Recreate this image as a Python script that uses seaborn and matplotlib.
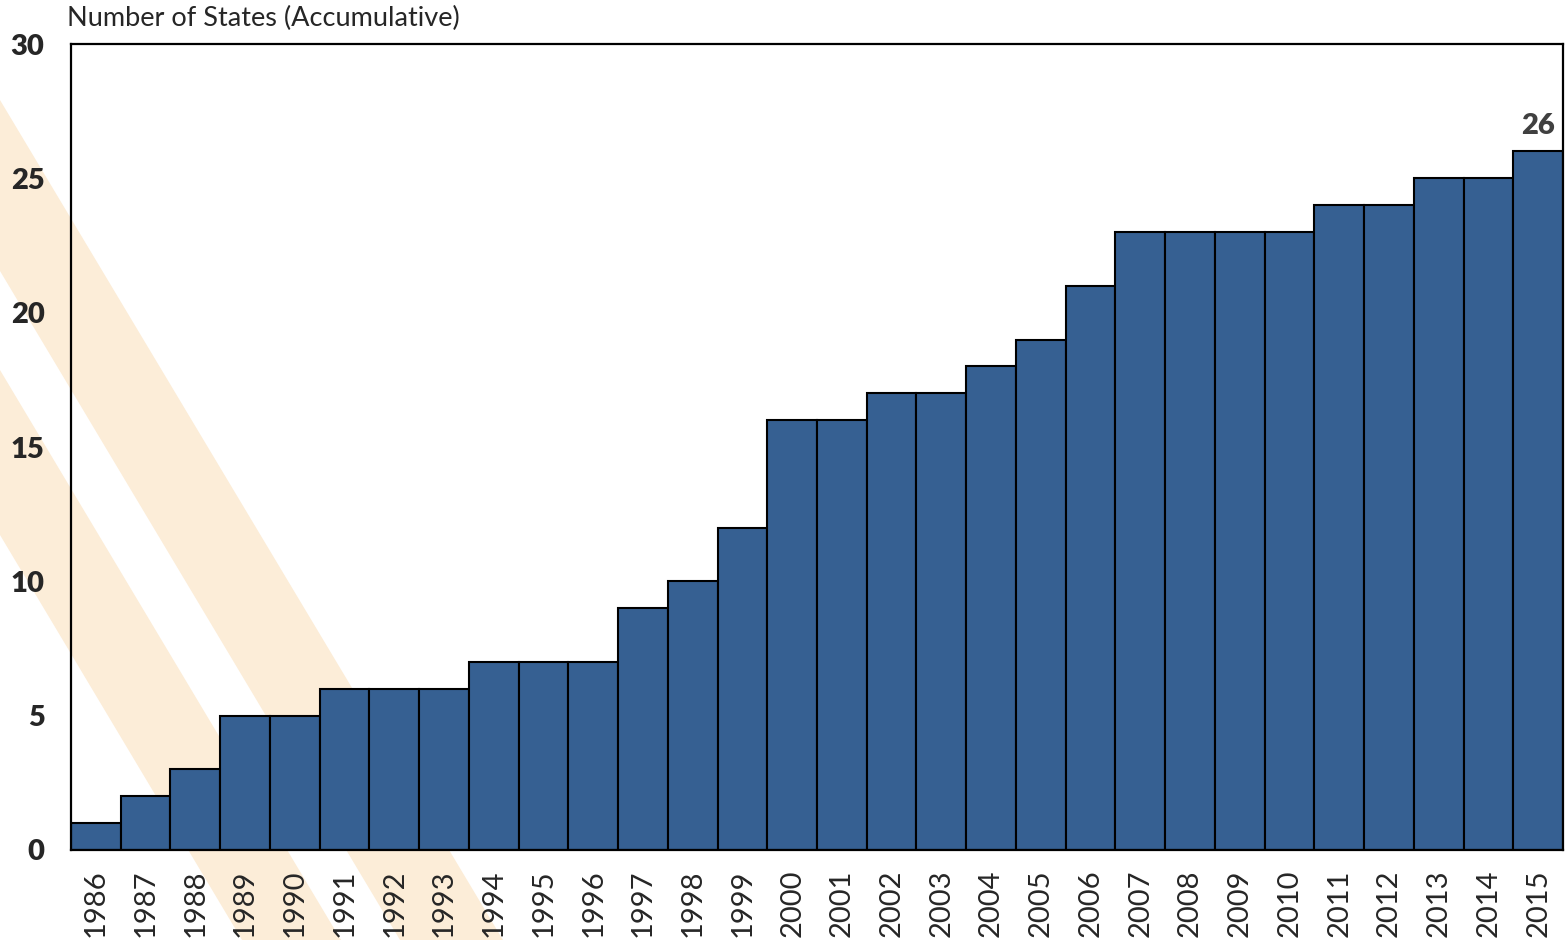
import numpy as np
import pandas as pd
import seaborn as sns
import matplotlib.pyplot as plt
from matplotlib.patches import Polygon

# data
years = [str(y) for y in range(1986, 2016)]
states = [1, 2, 3, 5, 5, 6, 6, 6, 7, 7, 7, 9, 10, 12, 16,
          16, 17, 17, 18, 19, 21, 23, 23, 23, 23, 24, 24, 25, 25, 26]
y_ticks = [0, 5, 10, 15, 20, 25, 30]
y_title = "Number of States (Accumulative)"

df = pd.DataFrame({"year": years, "states": states})

sns.set_style("white")
plt.rcParams['font.family'] = ['Lato', 'DejaVu Sans']

W, H = 1565, 940
fig = plt.figure(figsize=(W / 100, H / 100), dpi=100)
ax = fig.add_axes([71 / W, 1 - 850 / H, (1563 - 71) / W, (850 - 44) / H])
ax.set_facecolor("none")

# beige diagonal stripes in the background
def px(pts):
    return [(x / W, 1 - y / H) for x, y in pts]

for pts in [[(0, 100), (503, 940), (400, 940), (0, 271)],
            [(0, 370), (341, 940), (242, 940), (0, 535)]]:
    fig.add_artist(Polygon(px(pts), closed=True, transform=fig.transFigure,
                           facecolor="#fcedd8", edgecolor="none", zorder=-5))

sns.barplot(data=df, x="year", y="states", color="#366092", saturation=1,
            width=1.0, edgecolor="black", linewidth=1.5, ax=ax, zorder=2)

ax.set_xlim(-0.5, len(years) - 0.5)
ax.set_ylim(0, 30)
ax.set_yticks(y_ticks)
ax.set_yticklabels([str(t) for t in y_ticks], fontsize=21, fontweight="heavy")
ax.tick_params(axis="y", length=0, pad=19)
ax.tick_params(axis="x", length=0, pad=14, labelsize=21, rotation=90)
for lab in ax.get_xticklabels():
    lab.set_verticalalignment("top")
ax.set_xlabel("")
ax.set_ylabel("")

for s in ax.spines.values():
    s.set_visible(True)
    s.set_color("black")
    s.set_linewidth(1.6)

fig.text(67 / W, 1 - 18 / H, y_title, fontsize=19.5, va="center", ha="left")

# label on the last bar
ax.annotate(str(states[-1]), xy=(len(years) - 1, states[-1]),
            xytext=(12, 9), textcoords="offset points",
            ha="right", va="bottom", fontsize=21, fontweight="heavy",
            color="#404040")

fig.savefig("out.png", dpi=100)
